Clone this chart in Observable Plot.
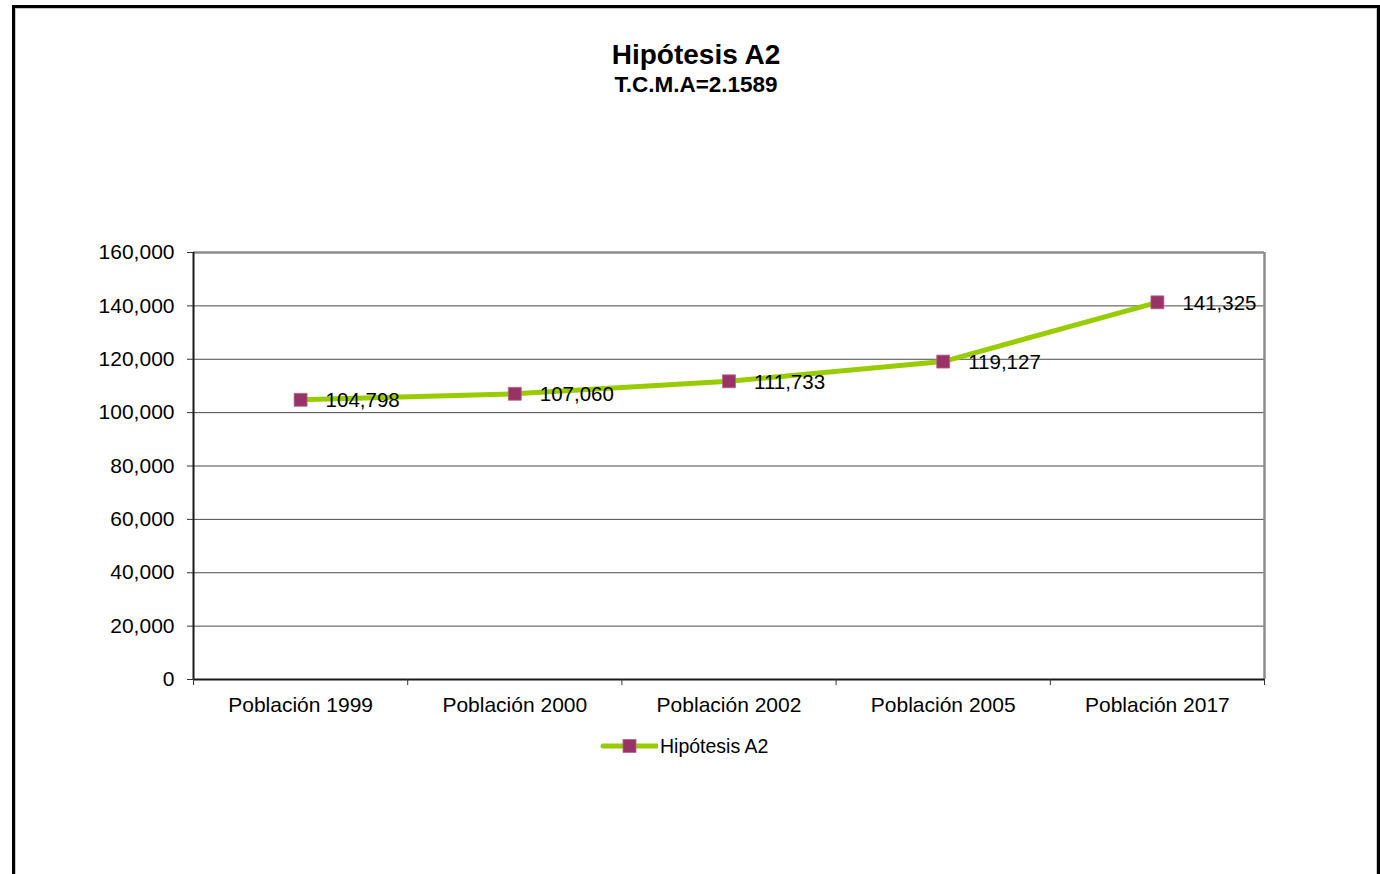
<!DOCTYPE html>
<html>
<head>
<meta charset="utf-8">
<script src="https://cdn.jsdelivr.net/npm/d3@7"></script>
<script src="https://cdn.jsdelivr.net/npm/@observablehq/plot@0.6"></script>
<style>
  html, body { margin: 0; padding: 0; background: #fff; overflow: hidden; width: 1380px; height: 874px; }
  body { position: relative; font-family: "Liberation Sans", Arial, sans-serif; }
  #frame { position: absolute; left: 12px; top: 5px; width: 1368px; height: 900px; box-sizing: border-box; border: 3px solid #000; box-shadow: inset 0 0 0 1px #c8c8c8; }
  #title { position: absolute; left: 12px; width: 1368px; top: 39px; text-align: center; font-weight: bold; font-size: 28px; line-height: 32px; color: #000; }
  #subtitle { position: absolute; left: 12px; width: 1368px; top: 72px; text-align: center; font-weight: bold; font-size: 22.5px; line-height: 26px; color: #000; }
  #chart { position: absolute; left: 0; top: 110px; }
  #legend { position: absolute; left: 600px; top: 733px; height: 26px; display: flex; align-items: center; font-size: 19.5px; color: #000; }
  #legend svg { display: block; margin-right: 2px; }
</style>
</head>
<body>
<div id="frame"></div>
<div id="title">Hipótesis A2</div>
<div id="subtitle">T.C.M.A=2.1589</div>
<div id="chart"></div>
<div id="legend"></div>
<script>
const categories = ["Población 1999", "Población 2000", "Población 2002", "Población 2005", "Población 2017"];
const values = [104798, 107060, 111733, 119127, 141325];
const yTicks = [0, 20000, 40000, 60000, 80000, 100000, 120000, 140000, 160000];
const seriesName = "Hipótesis A2";

const lineColor = "#99CC00";
const markerColor = "#993366";

const data = categories.map((c, i) => ({category: c, index: i + 0.5, value: values[i]}));
const centers = data.map(d => d.index);
const boundaries = d3.range(categories.length + 1);
const fmt = d3.format(",");

const plot = Plot.plot({
  width: 1380,
  height: 640,
  marginTop: 142,
  marginLeft: 193,
  marginRight: 116,
  marginBottom: 71,
  style: {fontFamily: "Liberation Sans, Arial, sans-serif", fontSize: "21px", color: "#000", background: "transparent"},
  x: {type: "linear", domain: [0, categories.length]},
  y: {domain: [0, 160000]},
  marks: [
    Plot.gridY(yTicks, {stroke: "#4a4a4a", strokeOpacity: 1, strokeWidth: 1}),
    Plot.ruleY([160000], {stroke: "#8c8c8c", strokeWidth: 2.5}),
    Plot.ruleX([categories.length], {stroke: "#8c8c8c", strokeWidth: 2.5}),
    Plot.ruleX([0], {stroke: "#1a1a1a", strokeWidth: 2}),
    Plot.ruleY([0], {stroke: "#1a1a1a", strokeWidth: 2}),
    Plot.axisY({ticks: yTicks, tickFormat: fmt, tickSize: 6, tickPadding: 13, label: null, stroke: "#333", fontSize: 21}),
    Plot.axisX({ticks: boundaries, tickFormat: () => "", tickSize: 6, label: null, stroke: "#333"}),
    Plot.axisX({ticks: centers, tickFormat: i => categories[Math.round(i - 0.5)], tickSize: 0, tickPadding: 18, label: null, fontSize: 21}),
    Plot.line(data, {x: "index", y: "value", stroke: lineColor, strokeWidth: 5}),
    Plot.dot(data, {x: "index", y: "value", symbol: "square", r: 7.3, fill: markerColor, stroke: "#b0668c", strokeWidth: 0.8}),
    Plot.text(data, {x: "index", y: "value", text: d => fmt(d.value), textAnchor: "start", dx: 25, dy: 1, fontSize: 20.5, fill: "#000"})
  ]
});
document.getElementById("chart").appendChild(plot);

// legend
const legend = document.getElementById("legend");
const sw = d3.create("svg").attr("width", 58).attr("height", 26);
sw.append("line").attr("x1", 3).attr("x2", 57).attr("y1", 13).attr("y2", 13)
  .attr("stroke", lineColor).attr("stroke-width", 5).attr("stroke-linecap", "round");
sw.append("rect").attr("x", 23).attr("y", 6.5).attr("width", 13).attr("height", 13)
  .attr("fill", markerColor).attr("stroke", "#b0668c").attr("stroke-width", 0.8);
legend.appendChild(sw.node());
const lt = document.createElement("span");
lt.textContent = seriesName;
legend.appendChild(lt);
</script>
</body>
</html>
